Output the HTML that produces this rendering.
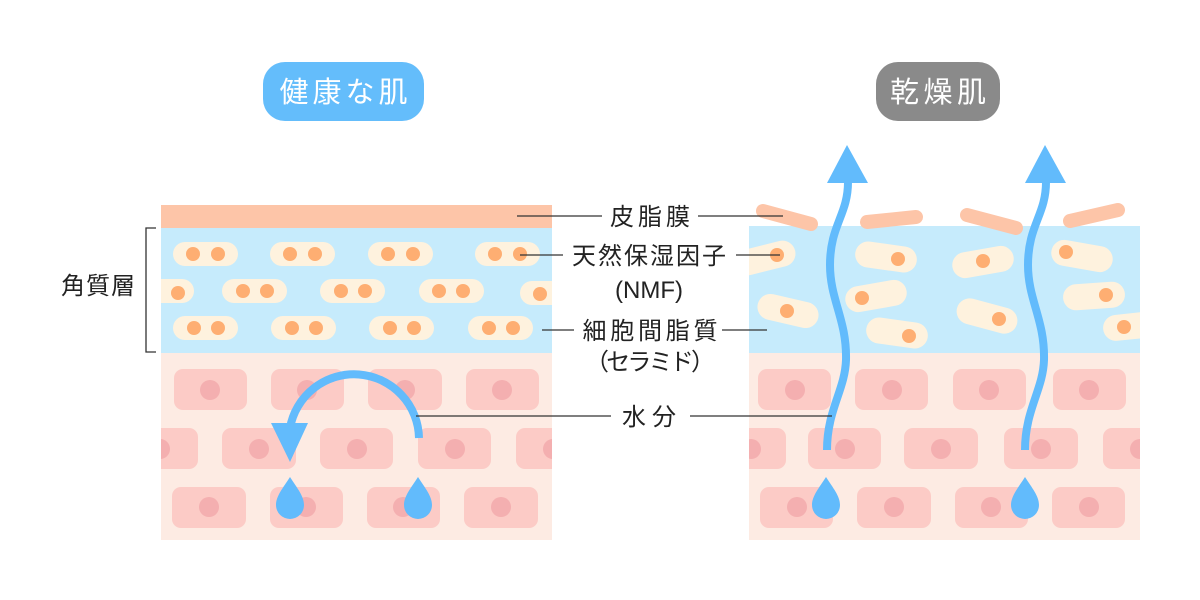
<!DOCTYPE html>
<html><head><meta charset="utf-8"><style>
html,body{margin:0;padding:0;background:#fff;width:1200px;height:600px;overflow:hidden}
svg{display:block}
text{font-family:"Liberation Sans","Noto Sans CJK JP",sans-serif}
</style></head><body>
<svg width="1200" height="600" viewBox="0 0 1200 600" xmlns="http://www.w3.org/2000/svg">
<defs>
<clipPath id="cl"><rect x="161" y="205" width="391" height="335"/></clipPath>
<clipPath id="cr"><rect x="749" y="226" width="391" height="314"/></clipPath>
</defs>
<!-- pills -->
<rect x="263" y="62" width="161" height="59" rx="22" fill="#64bdfb"/>
<text x="343.5" y="102" font-size="29" fill="#fff" text-anchor="middle" textLength="128">健康な肌</text>
<rect x="876" y="62" width="124" height="59" rx="22" fill="#8a8a8a"/>
<text x="938" y="102" font-size="29" fill="#fff" text-anchor="middle" textLength="96">乾燥肌</text>

<!-- LEFT PANEL -->
<g clip-path="url(#cl)">
<rect x="161" y="205" width="391" height="23" fill="#fdc5a8"/>
<rect x="161" y="228" width="391" height="125" fill="#c6ebfc"/>
<rect x="161" y="353" width="391" height="187" fill="#fdebe3"/>
<g fill="#fef2de">
<rect x="173" y="242" width="65" height="24" rx="12"/><rect x="270" y="242" width="65" height="24" rx="12"/><rect x="368" y="242" width="65" height="24" rx="12"/><rect x="475" y="242" width="65" height="24" rx="12"/>
<rect x="140" y="279" width="54" height="24" rx="12"/><rect x="222" y="279" width="65" height="24" rx="12"/><rect x="320" y="279" width="65" height="24" rx="12"/><rect x="419" y="279" width="65" height="24" rx="12"/><rect x="520" y="281" width="60" height="24" rx="12"/>
<rect x="173" y="316" width="65" height="24" rx="12"/><rect x="271" y="316" width="65" height="24" rx="12"/><rect x="369" y="316" width="65" height="24" rx="12"/><rect x="468" y="316" width="65" height="24" rx="12"/>
</g>
<g fill="#feae72">
<circle cx="193" cy="254" r="7"/><circle cx="218" cy="254" r="7"/><circle cx="290" cy="254" r="7"/><circle cx="315" cy="254" r="7"/><circle cx="388" cy="254" r="7"/><circle cx="413" cy="254" r="7"/><circle cx="495" cy="254" r="7"/><circle cx="520" cy="254" r="7"/>
<circle cx="178" cy="293" r="7"/><circle cx="243" cy="291" r="7"/><circle cx="267" cy="291" r="7"/><circle cx="341" cy="291" r="7"/><circle cx="365" cy="291" r="7"/><circle cx="439" cy="291" r="7"/><circle cx="463" cy="291" r="7"/><circle cx="540" cy="294" r="7"/>
<circle cx="194" cy="328" r="7"/><circle cx="218" cy="328" r="7"/><circle cx="292" cy="328" r="7"/><circle cx="316" cy="328" r="7"/><circle cx="390" cy="328" r="7"/><circle cx="414" cy="328" r="7"/><circle cx="489" cy="328" r="7"/><circle cx="513" cy="328" r="7"/>
</g>
<g fill="#fccbc6">
<rect x="174" y="369" width="73" height="41" rx="9"/><rect x="271" y="369" width="73" height="41" rx="9"/><rect x="368" y="369" width="74" height="41" rx="9"/><rect x="466" y="369" width="73" height="41" rx="9"/>
<rect x="125" y="428" width="73" height="41" rx="9"/><rect x="222" y="428" width="74" height="41" rx="9"/><rect x="320" y="428" width="73" height="41" rx="9"/><rect x="418" y="428" width="73" height="41" rx="9"/><rect x="516" y="428" width="73" height="41" rx="9"/>
<rect x="172" y="487" width="74" height="41" rx="9"/><rect x="270" y="487" width="73" height="41" rx="9"/><rect x="367" y="487" width="73" height="41" rx="9"/><rect x="464" y="487" width="74" height="41" rx="9"/>
</g>
<g fill="#f4afb0">
<circle cx="210" cy="390" r="10"/><circle cx="307" cy="390" r="10"/><circle cx="405" cy="390" r="10"/><circle cx="502" cy="390" r="10"/>
<circle cx="160" cy="449" r="10"/><circle cx="259" cy="449" r="10"/><circle cx="357" cy="449" r="10"/><circle cx="455" cy="449" r="10"/><circle cx="553" cy="449" r="10"/>
<circle cx="209" cy="507" r="10"/><circle cx="306" cy="507" r="10"/><circle cx="403" cy="507" r="10"/><circle cx="501" cy="507" r="10"/>
</g>
</g>
<!-- left arrow -->
<path d="M419 438 A65 65 0 0 0 290 428" fill="none" stroke="#62bbfc" stroke-width="8"/>
<polygon points="271,423 308,423 290,462" fill="#62bbfc"/>
<path d="M290 477 C283 488 276 496 276 505 A14 14 0 0 0 304 505 C304 496 297 488 290 477Z" fill="#62bbfc"/>
<path d="M418 477 C411 488 404 496 404 505 A14 14 0 0 0 432 505 C432 496 425 488 418 477Z" fill="#62bbfc"/>

<!-- RIGHT PANEL -->
<g clip-path="url(#cr)">
<rect x="749" y="226" width="391" height="127" fill="#c6ebfc"/>
<rect x="749" y="353" width="391" height="187" fill="#fdebe3"/>
<g fill="#fef2de">
<rect x="-31" y="-13" width="62" height="26" rx="13" transform="translate(765,258) rotate(-14)"/>
<rect x="-31" y="-13" width="62" height="26" rx="13" transform="translate(886,257) rotate(8)"/>
<rect x="-31" y="-13" width="62" height="26" rx="13" transform="translate(983,262) rotate(-10)"/>
<rect x="-31" y="-13" width="62" height="26" rx="13" transform="translate(1082,256) rotate(10)"/>
<rect x="-31" y="-13" width="62" height="26" rx="13" transform="translate(788,311) rotate(13)"/>
<rect x="-31" y="-13" width="62" height="26" rx="13" transform="translate(876,296) rotate(-10)"/>
<rect x="-31" y="-13" width="62" height="26" rx="13" transform="translate(897,333) rotate(8)"/>
<rect x="-31" y="-13" width="62" height="26" rx="13" transform="translate(987,316) rotate(15)"/>
<rect x="-31" y="-13" width="62" height="26" rx="13" transform="translate(1094,296) rotate(-4)"/>
<rect x="-31" y="-13" width="62" height="26" rx="13" transform="translate(1134,326) rotate(-6)"/>
</g>
<g fill="#feae72">
<circle cx="777" cy="255" r="7"/><circle cx="898" cy="259" r="7"/><circle cx="983" cy="261" r="7"/><circle cx="1066" cy="252" r="7"/>
<circle cx="787" cy="311" r="7"/><circle cx="862" cy="298" r="7"/><circle cx="909" cy="336" r="7"/><circle cx="999" cy="319" r="7"/><circle cx="1106" cy="295" r="7"/><circle cx="1124" cy="327" r="7"/>
</g>
<g fill="#fccbc6">
<rect x="758" y="369" width="73" height="41" rx="9"/><rect x="855" y="369" width="73" height="41" rx="9"/><rect x="953" y="369" width="73" height="41" rx="9"/><rect x="1053" y="369" width="73" height="41" rx="9"/>
<rect x="713" y="428" width="73" height="41" rx="9"/><rect x="808" y="428" width="73" height="41" rx="9"/><rect x="904" y="428" width="74" height="41" rx="9"/><rect x="1004" y="428" width="74" height="41" rx="9"/><rect x="1103" y="428" width="73" height="41" rx="9"/>
<rect x="760" y="487" width="73" height="41" rx="9"/><rect x="857" y="487" width="74" height="41" rx="9"/><rect x="955" y="487" width="73" height="41" rx="9"/><rect x="1052" y="487" width="73" height="41" rx="9"/>
</g>
<g fill="#f4afb0">
<circle cx="795" cy="390" r="10"/><circle cx="892" cy="390" r="10"/><circle cx="989" cy="390" r="10"/><circle cx="1089" cy="390" r="10"/>
<circle cx="751" cy="449" r="10"/><circle cx="845" cy="449" r="10"/><circle cx="941" cy="449" r="10"/><circle cx="1041" cy="449" r="10"/><circle cx="1140" cy="449" r="10"/>
<circle cx="797" cy="507" r="10"/><circle cx="894" cy="507" r="10"/><circle cx="991" cy="507" r="10"/><circle cx="1089" cy="507" r="10"/>
</g>
</g>
<!-- sebum flakes -->
<g stroke="#fdc5a8" stroke-width="14" stroke-linecap="round">
<line x1="763" y1="211" x2="811" y2="224"/><line x1="867" y1="222" x2="916" y2="217"/><line x1="967" y1="215" x2="1016" y2="228"/><line x1="1070" y1="221" x2="1118" y2="210"/>
</g>
<!-- wavy arrows -->
<g fill="none" stroke="#62bbfc" stroke-width="8">
<path d="M827 450 C827 410 845 390 846 360 C847 320 830 300 830 265 C830 225 848 215 848 182"/>
<path d="M1025 450 C1025 410 1043 390 1044 360 C1045 320 1028 300 1028 265 C1028 225 1046 215 1046 182"/>
</g>
<polygon points="827,183 868,183 847,145" fill="#62bbfc"/>
<polygon points="1025,183 1066,183 1045,145" fill="#62bbfc"/>
<path d="M826 477 C819 488 812 496 812 505 A14 14 0 0 0 840 505 C840 496 833 488 826 477Z" fill="#62bbfc"/>
<path d="M1025 477 C1018 488 1011 496 1011 505 A14 14 0 0 0 1039 505 C1039 496 1032 488 1025 477Z" fill="#62bbfc"/>

<!-- label lines -->
<g stroke="#333" stroke-width="1.3">
<line x1="517" y1="216" x2="602" y2="216"/><line x1="698" y1="216" x2="783" y2="216"/>
<line x1="520" y1="255" x2="563" y2="255"/><line x1="736" y1="255" x2="780" y2="255"/>
<line x1="542" y1="330" x2="574" y2="330"/><line x1="722" y1="330" x2="767" y2="330"/>
<line x1="416" y1="416" x2="611" y2="416"/><line x1="690" y1="416" x2="832" y2="416"/>
<polyline points="156,228 146,228 146,352 156,352" fill="none"/>
</g>
<g font-size="24" fill="#222" text-anchor="middle">
<text x="650" y="225" textLength="80">皮脂膜</text>
<text x="649" y="264" textLength="154">天然保湿因子</text>
<text x="649" y="298">(NMF)</text>
<text x="650" y="339" textLength="135">細胞間脂質</text>
<text x="650" y="370" textLength="130">（セラミド）</text>
<text x="649" y="425" textLength="54">水分</text>
<text x="98" y="294" textLength="74">角質層</text>
</g>
</svg>
</body></html>
